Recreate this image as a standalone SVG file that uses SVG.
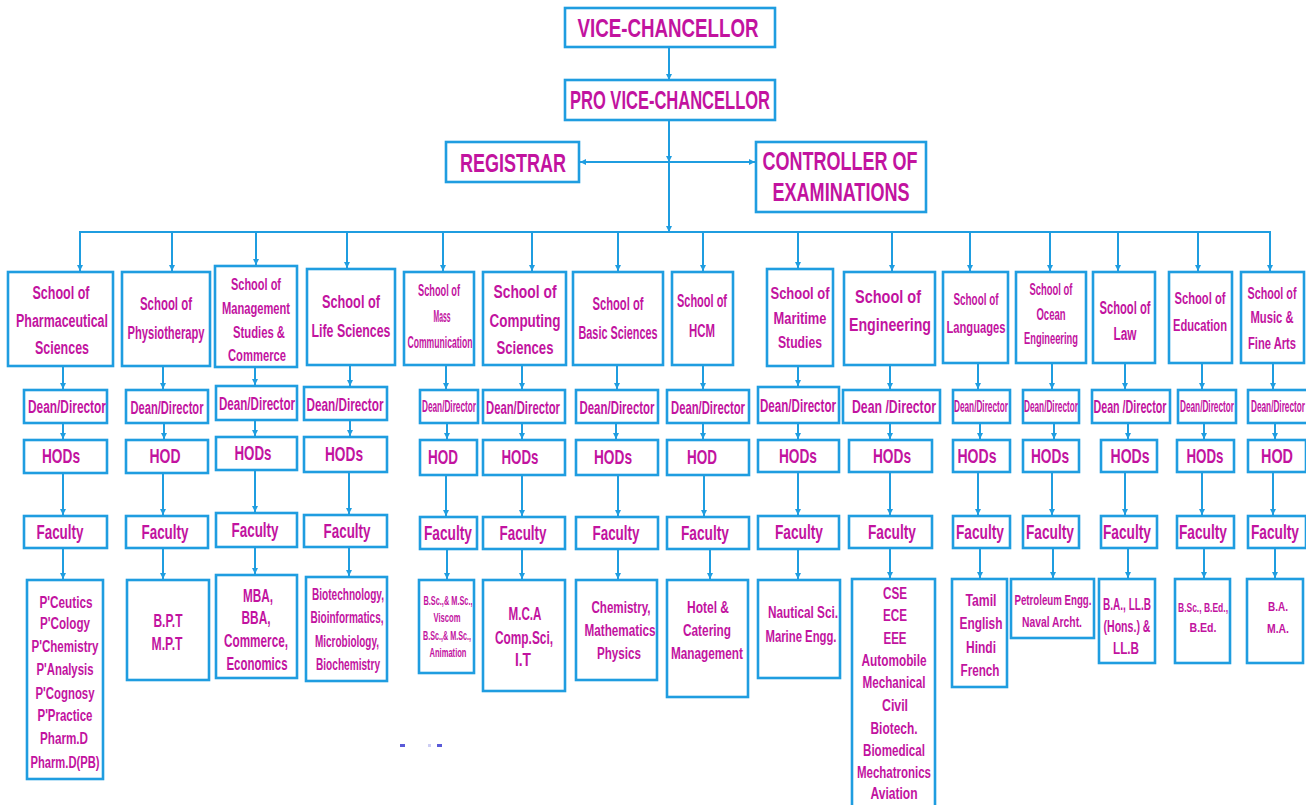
<svg xmlns="http://www.w3.org/2000/svg" width="1306" height="805" viewBox="0 0 1306 805">
<defs>
<style>
.b{fill:#fff;stroke:#1f9de0;stroke-width:2.6}
.c line{stroke:#1f9de0;stroke-width:2}
.t{font-family:"Liberation Sans",Arial,sans-serif;font-weight:bold;fill:#c2139f;text-anchor:middle;dominant-baseline:central}
</style>
<marker id="a" markerUnits="userSpaceOnUse" markerWidth="7" markerHeight="7" refX="6" refY="3.5" orient="auto"><path d="M0,0.5 L6,3.5 L0,6.5 z" fill="#1f9de0"/></marker>
</defs>
<rect width="1306" height="805" fill="#fff"/>

<g id="connectors" class="c">
<line x1="669" y1="47" x2="669" y2="80" marker-end="url(#a)"/>
<line x1="669" y1="120" x2="669" y2="162" marker-end="url(#a)"/>
<line x1="669" y1="162" x2="669" y2="232" marker-end="url(#a)"/>
<line x1="669" y1="162" x2="580" y2="162" marker-end="url(#a)"/>
<line x1="669" y1="162" x2="755" y2="162" marker-end="url(#a)"/>
<line x1="79" y1="232" x2="1271" y2="232"/>
<line x1="80" y1="232" x2="80" y2="271" marker-end="url(#a)"/>
<line x1="172" y1="232" x2="172" y2="271" marker-end="url(#a)"/>
<line x1="256" y1="232" x2="256" y2="265" marker-end="url(#a)"/>
<line x1="347" y1="232" x2="347" y2="268" marker-end="url(#a)"/>
<line x1="443" y1="232" x2="443" y2="271" marker-end="url(#a)"/>
<line x1="532" y1="232" x2="532" y2="271" marker-end="url(#a)"/>
<line x1="618" y1="232" x2="618" y2="271" marker-end="url(#a)"/>
<line x1="703" y1="232" x2="703" y2="271" marker-end="url(#a)"/>
<line x1="798" y1="232" x2="798" y2="268" marker-end="url(#a)"/>
<line x1="892" y1="232" x2="892" y2="271" marker-end="url(#a)"/>
<line x1="970" y1="232" x2="970" y2="271" marker-end="url(#a)"/>
<line x1="1050" y1="232" x2="1050" y2="271" marker-end="url(#a)"/>
<line x1="1118" y1="232" x2="1118" y2="271" marker-end="url(#a)"/>
<line x1="1198" y1="232" x2="1198" y2="271" marker-end="url(#a)"/>
<line x1="1270" y1="232" x2="1270" y2="271" marker-end="url(#a)"/>
<line x1="63" y1="366" x2="63" y2="389" marker-end="url(#a)"/>
<line x1="63" y1="423" x2="63" y2="439" marker-end="url(#a)"/>
<line x1="63" y1="473" x2="63" y2="515" marker-end="url(#a)"/>
<line x1="63" y1="548" x2="63" y2="579" marker-end="url(#a)"/>
<line x1="163" y1="366" x2="163" y2="389" marker-end="url(#a)"/>
<line x1="164" y1="423" x2="164" y2="439" marker-end="url(#a)"/>
<line x1="163" y1="473" x2="163" y2="515" marker-end="url(#a)"/>
<line x1="163" y1="548" x2="163" y2="579" marker-end="url(#a)"/>
<line x1="255" y1="367" x2="255" y2="385" marker-end="url(#a)"/>
<line x1="255" y1="420" x2="255" y2="436" marker-end="url(#a)"/>
<line x1="255" y1="470" x2="255" y2="512" marker-end="url(#a)"/>
<line x1="255" y1="547" x2="255" y2="574" marker-end="url(#a)"/>
<line x1="350" y1="365" x2="350" y2="386" marker-end="url(#a)"/>
<line x1="350" y1="420" x2="350" y2="436" marker-end="url(#a)"/>
<line x1="349" y1="472" x2="349" y2="514" marker-end="url(#a)"/>
<line x1="349" y1="547" x2="349" y2="576" marker-end="url(#a)"/>
<line x1="446" y1="365" x2="446" y2="389" marker-end="url(#a)"/>
<line x1="447" y1="423" x2="447" y2="439" marker-end="url(#a)"/>
<line x1="446" y1="475" x2="446" y2="516" marker-end="url(#a)"/>
<line x1="447" y1="549" x2="447" y2="579" marker-end="url(#a)"/>
<line x1="522" y1="365" x2="522" y2="389" marker-end="url(#a)"/>
<line x1="522" y1="423" x2="522" y2="439" marker-end="url(#a)"/>
<line x1="522" y1="475" x2="522" y2="516" marker-end="url(#a)"/>
<line x1="522" y1="549" x2="522" y2="579" marker-end="url(#a)"/>
<line x1="617" y1="365" x2="617" y2="389" marker-end="url(#a)"/>
<line x1="616" y1="423" x2="616" y2="439" marker-end="url(#a)"/>
<line x1="618" y1="475" x2="618" y2="516" marker-end="url(#a)"/>
<line x1="618" y1="549" x2="618" y2="579" marker-end="url(#a)"/>
<line x1="703" y1="365" x2="703" y2="389" marker-end="url(#a)"/>
<line x1="703" y1="423" x2="703" y2="439" marker-end="url(#a)"/>
<line x1="704" y1="475" x2="704" y2="516" marker-end="url(#a)"/>
<line x1="710" y1="549" x2="710" y2="579" marker-end="url(#a)"/>
<line x1="798" y1="366" x2="798" y2="386" marker-end="url(#a)"/>
<line x1="798" y1="423" x2="798" y2="439" marker-end="url(#a)"/>
<line x1="798" y1="472" x2="798" y2="515" marker-end="url(#a)"/>
<line x1="798" y1="549" x2="798" y2="579" marker-end="url(#a)"/>
<line x1="890" y1="365" x2="890" y2="389" marker-end="url(#a)"/>
<line x1="890" y1="423" x2="890" y2="439" marker-end="url(#a)"/>
<line x1="890" y1="472" x2="890" y2="515" marker-end="url(#a)"/>
<line x1="890" y1="548" x2="890" y2="578" marker-end="url(#a)"/>
<line x1="978" y1="363" x2="978" y2="389" marker-end="url(#a)"/>
<line x1="980" y1="423" x2="980" y2="439" marker-end="url(#a)"/>
<line x1="978" y1="472" x2="978" y2="515" marker-end="url(#a)"/>
<line x1="980" y1="548" x2="980" y2="578" marker-end="url(#a)"/>
<line x1="1052" y1="363" x2="1052" y2="389" marker-end="url(#a)"/>
<line x1="1054" y1="423" x2="1054" y2="439" marker-end="url(#a)"/>
<line x1="1052" y1="472" x2="1052" y2="515" marker-end="url(#a)"/>
<line x1="1053" y1="548" x2="1053" y2="578" marker-end="url(#a)"/>
<line x1="1125" y1="363" x2="1125" y2="389" marker-end="url(#a)"/>
<line x1="1128" y1="423" x2="1128" y2="439" marker-end="url(#a)"/>
<line x1="1125" y1="472" x2="1125" y2="515" marker-end="url(#a)"/>
<line x1="1128" y1="548" x2="1128" y2="578" marker-end="url(#a)"/>
<line x1="1202" y1="363" x2="1202" y2="389" marker-end="url(#a)"/>
<line x1="1204" y1="423" x2="1204" y2="439" marker-end="url(#a)"/>
<line x1="1202" y1="472" x2="1202" y2="515" marker-end="url(#a)"/>
<line x1="1204" y1="548" x2="1204" y2="578" marker-end="url(#a)"/>
<line x1="1273" y1="363" x2="1273" y2="389" marker-end="url(#a)"/>
<line x1="1275" y1="423" x2="1275" y2="439" marker-end="url(#a)"/>
<line x1="1273" y1="472" x2="1273" y2="515" marker-end="url(#a)"/>
<line x1="1275" y1="548" x2="1275" y2="578" marker-end="url(#a)"/>
</g>

<g id="vice-chancellor"><rect class="b" x="565" y="8" width="210" height="39"/><text class="t" x="668" y="28" font-size="18.7" transform="translate(0 28) scale(1 1.39) translate(0 -28)" textLength="181" lengthAdjust="spacingAndGlyphs">VICE-CHANCELLOR</text></g>
<g id="pro-vice-chancellor"><rect class="b" x="565" y="80" width="210" height="40"/><text class="t" x="670" y="100" font-size="16.5" transform="translate(0 100) scale(1 1.58) translate(0 -100)" textLength="200" lengthAdjust="spacingAndGlyphs">PRO VICE-CHANCELLOR</text></g>
<g id="registrar"><rect class="b" x="446" y="142" width="133" height="40"/><text class="t" x="513" y="163" font-size="18" transform="translate(0 163) scale(1 1.44) translate(0 -163)" textLength="106" lengthAdjust="spacingAndGlyphs">REGISTRAR</text></g>
<g id="controller"><rect class="b" x="756" y="142" width="170" height="70"/><text class="t" x="840" y="161" font-size="18" transform="translate(0 161) scale(1 1.44) translate(0 -161)" textLength="155" lengthAdjust="spacingAndGlyphs">CONTROLLER OF</text><text class="t" x="841" y="192" font-size="17.9" transform="translate(0 192) scale(1 1.45) translate(0 -192)" textLength="137" lengthAdjust="spacingAndGlyphs">EXAMINATIONS</text></g>

<g id="school-pharma"><rect class="b" x="8" y="272" width="105" height="94"/>
<text class="t" x="61" y="292" font-size="12.5" transform="translate(0 292) scale(1 1.52) translate(0 -292)" textLength="57" lengthAdjust="spacingAndGlyphs">School of</text>
<text class="t" x="62" y="320" font-size="12.4" transform="translate(0 320) scale(1 1.53) translate(0 -320)" textLength="92" lengthAdjust="spacingAndGlyphs">Pharmaceutical</text>
<text class="t" x="62" y="347" font-size="12.5" transform="translate(0 347) scale(1 1.52) translate(0 -347)" textLength="54" lengthAdjust="spacingAndGlyphs">Sciences</text></g>
<g id="dean-pharma"><rect class="b" x="24" y="390" width="83" height="33"/><text class="t" x="67" y="407" font-size="11.9" transform="translate(0 407) scale(1 1.51) translate(0 -407)" textLength="78" lengthAdjust="spacingAndGlyphs">Dean/Director</text></g>
<g id="hod-pharma"><rect class="b" x="24" y="440" width="83" height="33"/><text class="t" x="61" y="456" font-size="13.7" transform="translate(0 456) scale(1 1.53) translate(0 -456)" textLength="38" lengthAdjust="spacingAndGlyphs">HODs</text></g>
<g id="faculty-pharma"><rect class="b" x="24" y="516" width="83" height="32"/><text class="t" x="60" y="532" font-size="13.4" transform="translate(0 532) scale(1 1.57) translate(0 -532)" textLength="47" lengthAdjust="spacingAndGlyphs">Faculty</text></g>
<g id="prog-pharma"><rect class="b" x="27" y="580" width="76" height="199"/>
<text class="t" x="66" y="602" font-size="11.7" transform="translate(0 602) scale(1 1.37) translate(0 -602)" textLength="53" lengthAdjust="spacingAndGlyphs">P'Ceutics</text>
<text class="t" x="65" y="623" font-size="11.6" transform="translate(0 623) scale(1 1.38) translate(0 -623)" textLength="50" lengthAdjust="spacingAndGlyphs">P'Cology</text>
<text class="t" x="65" y="646" font-size="11.6" transform="translate(0 646) scale(1 1.38) translate(0 -646)" textLength="67" lengthAdjust="spacingAndGlyphs">P'Chemistry</text>
<text class="t" x="65" y="669" font-size="11.4" transform="translate(0 669) scale(1 1.4) translate(0 -669)" textLength="57" lengthAdjust="spacingAndGlyphs">P'Analysis</text>
<text class="t" x="65" y="693" font-size="11.4" transform="translate(0 693) scale(1 1.4) translate(0 -693)" textLength="59" lengthAdjust="spacingAndGlyphs">P'Cognosy</text>
<text class="t" x="65" y="715" font-size="11.5" transform="translate(0 715) scale(1 1.39) translate(0 -715)" textLength="55" lengthAdjust="spacingAndGlyphs">P'Practice</text>
<text class="t" x="64" y="738" font-size="11.7" transform="translate(0 738) scale(1 1.37) translate(0 -738)" textLength="48" lengthAdjust="spacingAndGlyphs">Pharm.D</text>
<text class="t" x="65" y="762" font-size="11.2" transform="translate(0 762) scale(1 1.43) translate(0 -762)" textLength="69" lengthAdjust="spacingAndGlyphs">Pharm.D(PB)</text></g>

<g id="school-physio"><rect class="b" x="122" y="272" width="88" height="94"/>
<text class="t" x="166" y="303" font-size="11.4" transform="translate(0 303) scale(1 1.67) translate(0 -303)" textLength="52" lengthAdjust="spacingAndGlyphs">School of</text>
<text class="t" x="166" y="332" font-size="11.2" transform="translate(0 332) scale(1 1.7) translate(0 -332)" textLength="77" lengthAdjust="spacingAndGlyphs">Physiotherapy</text></g>
<g id="dean-physio"><rect class="b" x="126" y="390" width="82" height="33"/><text class="t" x="167" y="407" font-size="11.1" transform="translate(0 407) scale(1 1.62) translate(0 -407)" textLength="73" lengthAdjust="spacingAndGlyphs">Dean/Director</text></g>
<g id="hod-physio"><rect class="b" x="126" y="440" width="82" height="33"/><text class="t" x="165" y="456" font-size="14" transform="translate(0 456) scale(1 1.5) translate(0 -456)" textLength="31" lengthAdjust="spacingAndGlyphs">HOD</text></g>
<g id="faculty-physio"><rect class="b" x="126" y="516" width="82" height="32"/><text class="t" x="165" y="532" font-size="13.4" transform="translate(0 532) scale(1 1.57) translate(0 -532)" textLength="47" lengthAdjust="spacingAndGlyphs">Faculty</text></g>
<g id="prog-physio"><rect class="b" x="127" y="580" width="82" height="100"/>
<text class="t" x="168" y="620" font-size="11.3" transform="translate(0 620) scale(1 1.59) translate(0 -620)" textLength="29" lengthAdjust="spacingAndGlyphs">B.P.T</text>
<text class="t" x="167" y="643" font-size="11.6" transform="translate(0 643) scale(1 1.55) translate(0 -643)" textLength="31" lengthAdjust="spacingAndGlyphs">M.P.T</text></g>

<g id="school-management"><rect class="b" x="215" y="266" width="82" height="101"/>
<text class="t" x="256" y="285" font-size="11" transform="translate(0 285) scale(1 1.45) translate(0 -285)" textLength="50" lengthAdjust="spacingAndGlyphs">School of</text>
<text class="t" x="256" y="309" font-size="11.1" transform="translate(0 309) scale(1 1.44) translate(0 -309)" textLength="68" lengthAdjust="spacingAndGlyphs">Management</text>
<text class="t" x="259" y="332" font-size="11.3" transform="translate(0 332) scale(1 1.42) translate(0 -332)" textLength="52" lengthAdjust="spacingAndGlyphs">Studies &amp;</text>
<text class="t" x="257" y="355" font-size="11.2" transform="translate(0 355) scale(1 1.43) translate(0 -355)" textLength="58" lengthAdjust="spacingAndGlyphs">Commerce</text></g>
<g id="dean-management"><rect class="b" x="216" y="386" width="81" height="34"/><text class="t" x="257" y="403" font-size="11.6" transform="translate(0 403) scale(1 1.55) translate(0 -403)" textLength="76" lengthAdjust="spacingAndGlyphs">Dean/Director</text></g>
<g id="hod-management"><rect class="b" x="216" y="437" width="81" height="33"/><text class="t" x="253" y="453" font-size="13.3" transform="translate(0 453) scale(1 1.58) translate(0 -453)" textLength="37" lengthAdjust="spacingAndGlyphs">HODs</text></g>
<g id="faculty-management"><rect class="b" x="216" y="513" width="81" height="34"/><text class="t" x="255" y="530" font-size="13.4" transform="translate(0 530) scale(1 1.57) translate(0 -530)" textLength="47" lengthAdjust="spacingAndGlyphs">Faculty</text></g>
<g id="prog-management"><rect class="b" x="216" y="575" width="81" height="103"/>
<text class="t" x="258" y="595" font-size="11.7" transform="translate(0 595) scale(1 1.54) translate(0 -595)" textLength="30" lengthAdjust="spacingAndGlyphs">MBA,</text>
<text class="t" x="256" y="618" font-size="11.9" transform="translate(0 618) scale(1 1.51) translate(0 -618)" textLength="29" lengthAdjust="spacingAndGlyphs">BBA,</text>
<text class="t" x="256" y="640" font-size="11.8" transform="translate(0 640) scale(1 1.53) translate(0 -640)" textLength="64" lengthAdjust="spacingAndGlyphs">Commerce,</text>
<text class="t" x="257" y="663" font-size="11.4" transform="translate(0 663) scale(1 1.58) translate(0 -663)" textLength="61" lengthAdjust="spacingAndGlyphs">Economics</text></g>

<g id="school-life"><rect class="b" x="307" y="269" width="88" height="96"/>
<text class="t" x="351" y="301" font-size="12.7" transform="translate(0 301) scale(1 1.5) translate(0 -301)" textLength="58" lengthAdjust="spacingAndGlyphs">School of</text>
<text class="t" x="351" y="330" font-size="12.4" transform="translate(0 330) scale(1 1.53) translate(0 -330)" textLength="79" lengthAdjust="spacingAndGlyphs">Life Sciences</text></g>
<g id="dean-life"><rect class="b" x="304" y="387" width="83" height="33"/><text class="t" x="345" y="404" font-size="11.7" transform="translate(0 404) scale(1 1.54) translate(0 -404)" textLength="77" lengthAdjust="spacingAndGlyphs">Dean/Director</text></g>
<g id="hod-life"><rect class="b" x="304" y="437" width="83" height="35"/><text class="t" x="344" y="454" font-size="13.7" transform="translate(0 454) scale(1 1.53) translate(0 -454)" textLength="38" lengthAdjust="spacingAndGlyphs">HODs</text></g>
<g id="faculty-life"><rect class="b" x="304" y="515" width="83" height="32"/><text class="t" x="347" y="531" font-size="13.4" transform="translate(0 531) scale(1 1.57) translate(0 -531)" textLength="47" lengthAdjust="spacingAndGlyphs">Faculty</text></g>
<g id="prog-life"><rect class="b" x="306" y="577" width="81" height="104"/>
<text class="t" x="348" y="595" font-size="10" transform="translate(0 595) scale(1 1.6) translate(0 -595)" textLength="72" lengthAdjust="spacingAndGlyphs">Biotechnology,</text>
<text class="t" x="347" y="618" font-size="10" transform="translate(0 618) scale(1 1.6) translate(0 -618)" textLength="73" lengthAdjust="spacingAndGlyphs">Bioinformatics,</text>
<text class="t" x="347" y="642" font-size="9.8" transform="translate(0 642) scale(1 1.63) translate(0 -642)" textLength="64" lengthAdjust="spacingAndGlyphs">Microbiology,</text>
<text class="t" x="348" y="665" font-size="10.1" transform="translate(0 665) scale(1 1.58) translate(0 -665)" textLength="64" lengthAdjust="spacingAndGlyphs">Biochemistry</text></g>

<g id="school-mass"><rect class="b" x="404" y="272" width="70" height="93"/>
<text class="t" x="439" y="290" font-size="9.2" transform="translate(0 290) scale(1 1.74) translate(0 -290)" textLength="42" lengthAdjust="spacingAndGlyphs">School of</text>
<text class="t" x="442" y="317" font-size="6.8" transform="translate(0 317) scale(1 2.35) translate(0 -317)" textLength="17" lengthAdjust="spacingAndGlyphs">Mass</text>
<text class="t" x="440" y="342" font-size="8.6" transform="translate(0 342) scale(1 1.86) translate(0 -342)" textLength="65" lengthAdjust="spacingAndGlyphs">Communication</text></g>
<g id="dean-mass"><rect class="b" x="420" y="390" width="58" height="33"/><text class="t" x="449" y="407" font-size="8.2" transform="translate(0 407) scale(1 1.95) translate(0 -407)" textLength="54" lengthAdjust="spacingAndGlyphs">Dean/Director</text></g>
<g id="hod-mass"><rect class="b" x="420" y="440" width="57" height="35"/><text class="t" x="443" y="457" font-size="13.5" transform="translate(0 457) scale(1 1.56) translate(0 -457)" textLength="30" lengthAdjust="spacingAndGlyphs">HOD</text></g>
<g id="faculty-mass"><rect class="b" x="420" y="517" width="57" height="32"/><text class="t" x="448" y="533" font-size="13.7" transform="translate(0 533) scale(1 1.53) translate(0 -533)" textLength="48" lengthAdjust="spacingAndGlyphs">Faculty</text></g>
<g id="prog-mass"><rect class="b" x="419" y="580" width="55" height="93"/>
<text class="t" x="448" y="601" font-size="7.3" transform="translate(0 601) scale(1 1.64) translate(0 -601)" textLength="49" lengthAdjust="spacingAndGlyphs">B.Sc.,&amp; M.Sc.,</text>
<text class="t" x="447" y="618" font-size="7.6" transform="translate(0 618) scale(1 1.58) translate(0 -618)" textLength="27" lengthAdjust="spacingAndGlyphs">Viscom</text>
<text class="t" x="447" y="636" font-size="7.2" transform="translate(0 636) scale(1 1.67) translate(0 -636)" textLength="48" lengthAdjust="spacingAndGlyphs">B.Sc.,&amp; M.Sc.,</text>
<text class="t" x="448" y="653" font-size="7.6" transform="translate(0 653) scale(1 1.58) translate(0 -653)" textLength="37" lengthAdjust="spacingAndGlyphs">Animation</text></g>

<g id="school-computing"><rect class="b" x="483" y="272" width="83" height="93"/>
<text class="t" x="525" y="292" font-size="13.8" transform="translate(0 292) scale(1 1.38) translate(0 -292)" textLength="63" lengthAdjust="spacingAndGlyphs">School of</text>
<text class="t" x="525" y="320" font-size="13.5" transform="translate(0 320) scale(1 1.41) translate(0 -320)" textLength="71" lengthAdjust="spacingAndGlyphs">Computing</text>
<text class="t" x="525" y="347" font-size="13.1" transform="translate(0 347) scale(1 1.45) translate(0 -347)" textLength="57" lengthAdjust="spacingAndGlyphs">Sciences</text></g>
<g id="dean-computing"><rect class="b" x="483" y="390" width="82" height="33"/><text class="t" x="523" y="407" font-size="11.3" transform="translate(0 407) scale(1 1.59) translate(0 -407)" textLength="74" lengthAdjust="spacingAndGlyphs">Dean/Director</text></g>
<g id="hod-computing"><rect class="b" x="483" y="440" width="82" height="35"/><text class="t" x="520" y="457" font-size="13.3" transform="translate(0 457) scale(1 1.58) translate(0 -457)" textLength="37" lengthAdjust="spacingAndGlyphs">HODs</text></g>
<g id="faculty-computing"><rect class="b" x="483" y="517" width="82" height="32"/><text class="t" x="523" y="533" font-size="13.4" transform="translate(0 533) scale(1 1.57) translate(0 -533)" textLength="47" lengthAdjust="spacingAndGlyphs">Faculty</text></g>
<g id="prog-computing"><rect class="b" x="483" y="580" width="82" height="111"/>
<text class="t" x="525" y="613" font-size="11.6" transform="translate(0 613) scale(1 1.64) translate(0 -613)" textLength="33" lengthAdjust="spacingAndGlyphs">M.C.A</text>
<text class="t" x="524" y="637" font-size="11.9" transform="translate(0 637) scale(1 1.6) translate(0 -637)" textLength="58" lengthAdjust="spacingAndGlyphs">Comp.Sci,</text>
<text class="t" x="523" y="660" font-size="13.7" transform="translate(0 660) scale(1 1.39) translate(0 -660)" textLength="16" lengthAdjust="spacingAndGlyphs">I.T</text></g>

<g id="school-basic"><rect class="b" x="573" y="272" width="90" height="93"/>
<text class="t" x="618" y="303" font-size="11.2" transform="translate(0 303) scale(1 1.7) translate(0 -303)" textLength="51" lengthAdjust="spacingAndGlyphs">School of</text>
<text class="t" x="618" y="332" font-size="10.8" transform="translate(0 332) scale(1 1.76) translate(0 -332)" textLength="79" lengthAdjust="spacingAndGlyphs">Basic Sciences</text></g>
<g id="dean-basic"><rect class="b" x="576" y="390" width="82" height="33"/><text class="t" x="617" y="407" font-size="11.4" transform="translate(0 407) scale(1 1.58) translate(0 -407)" textLength="75" lengthAdjust="spacingAndGlyphs">Dean/Director</text></g>
<g id="hod-basic"><rect class="b" x="576" y="440" width="82" height="35"/><text class="t" x="613" y="457" font-size="13.7" transform="translate(0 457) scale(1 1.53) translate(0 -457)" textLength="38" lengthAdjust="spacingAndGlyphs">HODs</text></g>
<g id="faculty-basic"><rect class="b" x="576" y="517" width="82" height="32"/><text class="t" x="616" y="533" font-size="13.4" transform="translate(0 533) scale(1 1.57) translate(0 -533)" textLength="47" lengthAdjust="spacingAndGlyphs">Faculty</text></g>
<g id="prog-basic"><rect class="b" x="576" y="580" width="81" height="100"/>
<text class="t" x="621" y="607" font-size="11.4" transform="translate(0 607) scale(1 1.4) translate(0 -607)" textLength="59" lengthAdjust="spacingAndGlyphs">Chemistry,</text>
<text class="t" x="620" y="630" font-size="11.7" transform="translate(0 630) scale(1 1.37) translate(0 -630)" textLength="71" lengthAdjust="spacingAndGlyphs">Mathematics</text>
<text class="t" x="619" y="653" font-size="11.6" transform="translate(0 653) scale(1 1.38) translate(0 -653)" textLength="44" lengthAdjust="spacingAndGlyphs">Physics</text></g>

<g id="school-hcm"><rect class="b" x="672" y="272" width="61" height="93"/>
<text class="t" x="702" y="300" font-size="11" transform="translate(0 300) scale(1 1.73) translate(0 -300)" textLength="50" lengthAdjust="spacingAndGlyphs">School of</text>
<text class="t" x="702" y="330" font-size="11.4" transform="translate(0 330) scale(1 1.67) translate(0 -330)" textLength="26" lengthAdjust="spacingAndGlyphs">HCM</text></g>
<g id="dean-hcm"><rect class="b" x="667" y="390" width="82" height="33"/><text class="t" x="708" y="407" font-size="11.3" transform="translate(0 407) scale(1 1.59) translate(0 -407)" textLength="74" lengthAdjust="spacingAndGlyphs">Dean/Director</text></g>
<g id="hod-hcm"><rect class="b" x="667" y="440" width="82" height="35"/><text class="t" x="702" y="457" font-size="13.5" transform="translate(0 457) scale(1 1.56) translate(0 -457)" textLength="30" lengthAdjust="spacingAndGlyphs">HOD</text></g>
<g id="faculty-hcm"><rect class="b" x="667" y="517" width="82" height="32"/><text class="t" x="705" y="533" font-size="13.7" transform="translate(0 533) scale(1 1.53) translate(0 -533)" textLength="48" lengthAdjust="spacingAndGlyphs">Faculty</text></g>
<g id="prog-hcm"><rect class="b" x="667" y="580" width="81" height="117"/>
<text class="t" x="708" y="607" font-size="12" transform="translate(0 607) scale(1 1.33) translate(0 -607)" textLength="42" lengthAdjust="spacingAndGlyphs">Hotel &amp;</text>
<text class="t" x="707" y="630" font-size="11.8" transform="translate(0 630) scale(1 1.36) translate(0 -630)" textLength="48" lengthAdjust="spacingAndGlyphs">Catering</text>
<text class="t" x="707" y="653" font-size="11.8" transform="translate(0 653) scale(1 1.36) translate(0 -653)" textLength="72" lengthAdjust="spacingAndGlyphs">Management</text></g>

<g id="school-maritime"><rect class="b" x="767" y="269" width="66" height="97"/>
<text class="t" x="800" y="293" font-size="13" transform="translate(0 293) scale(1 1.31) translate(0 -293)" textLength="59" lengthAdjust="spacingAndGlyphs">School of</text>
<text class="t" x="800" y="318" font-size="12.9" transform="translate(0 318) scale(1 1.32) translate(0 -318)" textLength="53" lengthAdjust="spacingAndGlyphs">Maritime</text>
<text class="t" x="800" y="342" font-size="12.2" transform="translate(0 342) scale(1 1.39) translate(0 -342)" textLength="44" lengthAdjust="spacingAndGlyphs">Studies</text></g>
<g id="dean-maritime"><rect class="b" x="758" y="387" width="81" height="36"/><text class="t" x="798" y="405" font-size="11.6" transform="translate(0 405) scale(1 1.55) translate(0 -405)" textLength="76" lengthAdjust="spacingAndGlyphs">Dean/Director</text></g>
<g id="hod-maritime"><rect class="b" x="758" y="440" width="81" height="32"/><text class="t" x="798" y="456" font-size="13.7" transform="translate(0 456) scale(1 1.53) translate(0 -456)" textLength="38" lengthAdjust="spacingAndGlyphs">HODs</text></g>
<g id="faculty-maritime"><rect class="b" x="758" y="516" width="81" height="33"/><text class="t" x="799" y="532" font-size="13.7" transform="translate(0 532) scale(1 1.53) translate(0 -532)" textLength="48" lengthAdjust="spacingAndGlyphs">Faculty</text></g>
<g id="prog-maritime"><rect class="b" x="758" y="580" width="82" height="98"/>
<text class="t" x="803" y="612" font-size="11.8" transform="translate(0 612) scale(1 1.36) translate(0 -612)" textLength="70" lengthAdjust="spacingAndGlyphs">Nautical Sci.</text>
<text class="t" x="801" y="636" font-size="11.3" transform="translate(0 636) scale(1 1.42) translate(0 -636)" textLength="71" lengthAdjust="spacingAndGlyphs">Marine Engg.</text></g>

<g id="school-engineering"><rect class="b" x="844" y="272" width="91" height="93"/>
<text class="t" x="888" y="297" font-size="14.5" transform="translate(0 297) scale(1 1.31) translate(0 -297)" textLength="66" lengthAdjust="spacingAndGlyphs">School of</text>
<text class="t" x="890" y="325" font-size="14.2" transform="translate(0 325) scale(1 1.34) translate(0 -325)" textLength="82" lengthAdjust="spacingAndGlyphs">Engineering</text></g>
<g id="dean-engineering"><rect class="b" x="843" y="390" width="97" height="33"/><text class="t" x="894" y="407" font-size="12.3" transform="translate(0 407) scale(1 1.46) translate(0 -407)" textLength="84" lengthAdjust="spacingAndGlyphs">Dean /Director</text></g>
<g id="hod-engineering"><rect class="b" x="849" y="440" width="83" height="32"/><text class="t" x="892" y="456" font-size="13.7" transform="translate(0 456) scale(1 1.53) translate(0 -456)" textLength="38" lengthAdjust="spacingAndGlyphs">HODs</text></g>
<g id="faculty-engineering"><rect class="b" x="849" y="516" width="83" height="32"/><text class="t" x="892" y="532" font-size="13.7" transform="translate(0 532) scale(1 1.53) translate(0 -532)" textLength="48" lengthAdjust="spacingAndGlyphs">Faculty</text></g>
<g id="prog-engineering"><rect class="b" x="852" y="579" width="83" height="240"/>
<text class="t" x="895" y="593" font-size="11.7" transform="translate(0 593) scale(1 1.37) translate(0 -593)" textLength="24" lengthAdjust="spacingAndGlyphs">CSE</text>
<text class="t" x="895" y="615" font-size="11.7" transform="translate(0 615) scale(1 1.37) translate(0 -615)" textLength="24" lengthAdjust="spacingAndGlyphs">ECE</text>
<text class="t" x="895" y="638" font-size="11.5" transform="translate(0 638) scale(1 1.39) translate(0 -638)" textLength="23" lengthAdjust="spacingAndGlyphs">EEE</text>
<text class="t" x="894" y="660" font-size="11.8" transform="translate(0 660) scale(1 1.36) translate(0 -660)" textLength="65" lengthAdjust="spacingAndGlyphs">Automobile</text>
<text class="t" x="894" y="682" font-size="11.7" transform="translate(0 682) scale(1 1.37) translate(0 -682)" textLength="63" lengthAdjust="spacingAndGlyphs">Mechanical</text>
<text class="t" x="895" y="705" font-size="12.3" transform="translate(0 705) scale(1 1.3) translate(0 -705)" textLength="26" lengthAdjust="spacingAndGlyphs">Civil</text>
<text class="t" x="894" y="728" font-size="11.9" transform="translate(0 728) scale(1 1.34) translate(0 -728)" textLength="47" lengthAdjust="spacingAndGlyphs">Biotech.</text>
<text class="t" x="894" y="750" font-size="11.6" transform="translate(0 750) scale(1 1.38) translate(0 -750)" textLength="62" lengthAdjust="spacingAndGlyphs">Biomedical</text>
<text class="t" x="894" y="772" font-size="11.5" transform="translate(0 772) scale(1 1.39) translate(0 -772)" textLength="74" lengthAdjust="spacingAndGlyphs">Mechatronics</text>
<text class="t" x="894" y="793" font-size="11.9" transform="translate(0 793) scale(1 1.34) translate(0 -793)" textLength="47" lengthAdjust="spacingAndGlyphs">Aviation</text></g>

<g id="school-languages"><rect class="b" x="943" y="272" width="65" height="91"/>
<text class="t" x="976" y="300" font-size="9.9" transform="translate(0 300) scale(1 1.62) translate(0 -300)" textLength="45" lengthAdjust="spacingAndGlyphs">School of</text>
<text class="t" x="976" y="327" font-size="11.2" transform="translate(0 327) scale(1 1.43) translate(0 -327)" textLength="59" lengthAdjust="spacingAndGlyphs">Languages</text></g>
<g id="dean-languages"><rect class="b" x="953" y="390" width="57" height="33"/><text class="t" x="981" y="407" font-size="8.2" transform="translate(0 407) scale(1 1.95) translate(0 -407)" textLength="54" lengthAdjust="spacingAndGlyphs">Dean/Director</text></g>
<g id="hod-languages"><rect class="b" x="953" y="440" width="57" height="32"/><text class="t" x="977" y="456" font-size="14" transform="translate(0 456) scale(1 1.5) translate(0 -456)" textLength="39" lengthAdjust="spacingAndGlyphs">HODs</text></g>
<g id="faculty-languages"><rect class="b" x="953" y="516" width="57" height="32"/><text class="t" x="980" y="532" font-size="13.7" transform="translate(0 532) scale(1 1.53) translate(0 -532)" textLength="48" lengthAdjust="spacingAndGlyphs">Faculty</text></g>
<g id="prog-languages"><rect class="b" x="952" y="579" width="55" height="108"/>
<text class="t" x="981" y="600" font-size="11.9" transform="translate(0 600) scale(1 1.34) translate(0 -600)" textLength="31" lengthAdjust="spacingAndGlyphs">Tamil</text>
<text class="t" x="981" y="623" font-size="11.9" transform="translate(0 623) scale(1 1.34) translate(0 -623)" textLength="43" lengthAdjust="spacingAndGlyphs">English</text>
<text class="t" x="981" y="647" font-size="12" transform="translate(0 647) scale(1 1.33) translate(0 -647)" textLength="30" lengthAdjust="spacingAndGlyphs">Hindi</text>
<text class="t" x="980" y="670" font-size="11.7" transform="translate(0 670) scale(1 1.37) translate(0 -670)" textLength="39" lengthAdjust="spacingAndGlyphs">French</text></g>

<g id="school-ocean"><rect class="b" x="1016" y="272" width="70" height="91"/>
<text class="t" x="1051" y="290" font-size="9.4" transform="translate(0 290) scale(1 1.7) translate(0 -290)" textLength="43" lengthAdjust="spacingAndGlyphs">School of</text>
<text class="t" x="1051" y="315" font-size="9.5" transform="translate(0 315) scale(1 1.68) translate(0 -315)" textLength="29" lengthAdjust="spacingAndGlyphs">Ocean</text>
<text class="t" x="1051" y="339" font-size="9.3" transform="translate(0 339) scale(1 1.72) translate(0 -339)" textLength="54" lengthAdjust="spacingAndGlyphs">Engineering</text></g>
<g id="dean-ocean"><rect class="b" x="1023" y="390" width="56" height="33"/><text class="t" x="1051" y="407" font-size="8.2" transform="translate(0 407) scale(1 1.95) translate(0 -407)" textLength="54" lengthAdjust="spacingAndGlyphs">Dean/Director</text></g>
<g id="hod-ocean"><rect class="b" x="1023" y="440" width="56" height="32"/><text class="t" x="1050" y="456" font-size="13.7" transform="translate(0 456) scale(1 1.53) translate(0 -456)" textLength="38" lengthAdjust="spacingAndGlyphs">HODs</text></g>
<g id="faculty-ocean"><rect class="b" x="1023" y="516" width="56" height="32"/><text class="t" x="1050" y="532" font-size="13.7" transform="translate(0 532) scale(1 1.53) translate(0 -532)" textLength="48" lengthAdjust="spacingAndGlyphs">Faculty</text></g>
<g id="prog-ocean"><rect class="b" x="1011" y="579" width="83" height="59"/>
<text class="t" x="1053" y="600" font-size="9.7" transform="translate(0 600) scale(1 1.55) translate(0 -600)" textLength="77" lengthAdjust="spacingAndGlyphs">Petroleum Engg.</text>
<text class="t" x="1052" y="622" font-size="10.3" transform="translate(0 622) scale(1 1.46) translate(0 -622)" textLength="60" lengthAdjust="spacingAndGlyphs">Naval Archt.</text></g>

<g id="school-law"><rect class="b" x="1093" y="272" width="62" height="91"/>
<text class="t" x="1125" y="307" font-size="11.2" transform="translate(0 307) scale(1 1.7) translate(0 -307)" textLength="51" lengthAdjust="spacingAndGlyphs">School of</text>
<text class="t" x="1125" y="333" font-size="11.8" transform="translate(0 333) scale(1 1.61) translate(0 -333)" textLength="23" lengthAdjust="spacingAndGlyphs">Law</text></g>
<g id="dean-law"><rect class="b" x="1092" y="390" width="78" height="33"/><text class="t" x="1130" y="407" font-size="10.7" transform="translate(0 407) scale(1 1.68) translate(0 -407)" textLength="73" lengthAdjust="spacingAndGlyphs">Dean /Director</text></g>
<g id="hod-law"><rect class="b" x="1101" y="440" width="56" height="32"/><text class="t" x="1130" y="456" font-size="14" transform="translate(0 456) scale(1 1.5) translate(0 -456)" textLength="39" lengthAdjust="spacingAndGlyphs">HODs</text></g>
<g id="faculty-law"><rect class="b" x="1101" y="516" width="56" height="32"/><text class="t" x="1127" y="532" font-size="13.7" transform="translate(0 532) scale(1 1.53) translate(0 -532)" textLength="48" lengthAdjust="spacingAndGlyphs">Faculty</text></g>
<g id="prog-law"><rect class="b" x="1099" y="579" width="56" height="84"/>
<text class="t" x="1127" y="605" font-size="10" transform="translate(0 605) scale(1 1.6) translate(0 -605)" textLength="48" lengthAdjust="spacingAndGlyphs">B.A., LL.B</text>
<text class="t" x="1127" y="627" font-size="10.6" transform="translate(0 627) scale(1 1.51) translate(0 -627)" textLength="47" lengthAdjust="spacingAndGlyphs">(Hons.) &amp;</text>
<text class="t" x="1126" y="648" font-size="11.7" transform="translate(0 648) scale(1 1.37) translate(0 -648)" textLength="26" lengthAdjust="spacingAndGlyphs">LL.B</text></g>

<g id="school-education"><rect class="b" x="1169" y="272" width="63" height="91"/>
<text class="t" x="1200" y="298" font-size="11.2" transform="translate(0 298) scale(1 1.52) translate(0 -298)" textLength="51" lengthAdjust="spacingAndGlyphs">School of</text>
<text class="t" x="1200" y="325" font-size="11.2" transform="translate(0 325) scale(1 1.52) translate(0 -325)" textLength="54" lengthAdjust="spacingAndGlyphs">Education</text></g>
<g id="dean-education"><rect class="b" x="1178" y="390" width="58" height="33"/><text class="t" x="1207" y="407" font-size="8.2" transform="translate(0 407) scale(1 1.95) translate(0 -407)" textLength="54" lengthAdjust="spacingAndGlyphs">Dean/Director</text></g>
<g id="hod-education"><rect class="b" x="1177" y="440" width="57" height="32"/><text class="t" x="1205" y="456" font-size="13.3" transform="translate(0 456) scale(1 1.58) translate(0 -456)" textLength="37" lengthAdjust="spacingAndGlyphs">HODs</text></g>
<g id="faculty-education"><rect class="b" x="1177" y="516" width="57" height="32"/><text class="t" x="1203" y="532" font-size="13.7" transform="translate(0 532) scale(1 1.53) translate(0 -532)" textLength="48" lengthAdjust="spacingAndGlyphs">Faculty</text></g>
<g id="prog-education"><rect class="b" x="1175" y="579" width="55" height="84"/>
<text class="t" x="1203" y="607" font-size="8.5" transform="translate(0 607) scale(1 1.53) translate(0 -607)" textLength="50" lengthAdjust="spacingAndGlyphs">B.Sc., B.Ed.,</text>
<text class="t" x="1203" y="628" font-size="10.6" transform="translate(0 628) scale(1 1.23) translate(0 -628)" textLength="27" lengthAdjust="spacingAndGlyphs">B.Ed.</text></g>

<g id="school-music"><rect class="b" x="1241" y="272" width="63" height="91"/>
<text class="t" x="1272" y="293" font-size="10.8" transform="translate(0 293) scale(1 1.57) translate(0 -293)" textLength="49" lengthAdjust="spacingAndGlyphs">School of</text>
<text class="t" x="1272" y="317" font-size="11.2" transform="translate(0 317) scale(1 1.52) translate(0 -317)" textLength="43" lengthAdjust="spacingAndGlyphs">Music &amp;</text>
<text class="t" x="1272" y="343" font-size="11.1" transform="translate(0 343) scale(1 1.53) translate(0 -343)" textLength="48" lengthAdjust="spacingAndGlyphs">Fine Arts</text></g>
<g id="dean-music"><rect class="b" x="1248" y="390" width="62" height="33"/><text class="t" x="1278" y="407" font-size="8.2" transform="translate(0 407) scale(1 1.95) translate(0 -407)" textLength="54" lengthAdjust="spacingAndGlyphs">Dean/Director</text></g>
<g id="hod-music"><rect class="b" x="1248" y="440" width="58" height="32"/><text class="t" x="1277" y="456" font-size="14.4" transform="translate(0 456) scale(1 1.46) translate(0 -456)" textLength="32" lengthAdjust="spacingAndGlyphs">HOD</text></g>
<g id="faculty-music"><rect class="b" x="1248" y="516" width="58" height="32"/><text class="t" x="1275" y="532" font-size="13.7" transform="translate(0 532) scale(1 1.53) translate(0 -532)" textLength="48" lengthAdjust="spacingAndGlyphs">Faculty</text></g>
<g id="prog-music"><rect class="b" x="1247" y="579" width="56" height="84"/>
<text class="t" x="1278" y="607" font-size="10" transform="translate(0 607) scale(1 1.3) translate(0 -607)" textLength="20" lengthAdjust="spacingAndGlyphs">B.A.</text>
<text class="t" x="1278" y="628" font-size="10.4" transform="translate(0 628) scale(1 1.25) translate(0 -628)" textLength="22" lengthAdjust="spacingAndGlyphs">M.A.</text></g>

<g id="marks" fill="#5a5ad8">
<rect x="400" y="744" width="5" height="3"/>
<rect x="428" y="744" width="3" height="3" opacity="0.3"/>
<rect x="437" y="744" width="5" height="3"/>
</g>
</svg>
